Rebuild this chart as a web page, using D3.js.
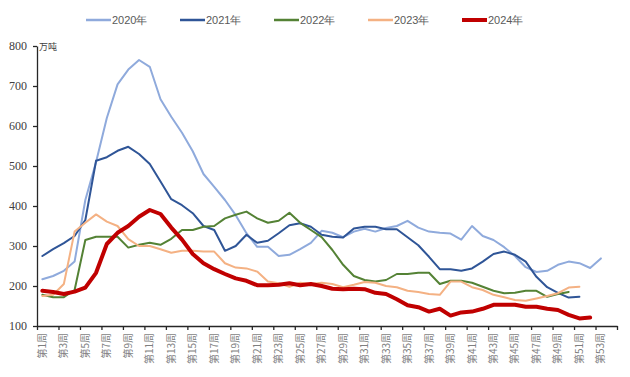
<!DOCTYPE html>
<html>
<head>
<meta charset="utf-8">
<script src="https://cdn.jsdelivr.net/npm/d3@7"></script>
<style>
  body { margin: 0; background: #fff; }
  svg { display: block; }
</style>
</head>
<body>
<div id="chart-area"></div>
<script>
// weekly values, 万吨
const weeks = d3.range(1, 55)
const weekLabels = weeks.map(w => "第" + w + "周")
const yTicks = [100, 200, 300, 400, 500, 600, 700, 800]

const years = ["2020年", "2021年", "2022年", "2023年", "2024年"]
const v2020 = [217, 225, 238, 261, 415, 510, 620, 704, 741, 765, 748, 667, 623, 583, 537, 480, 448, 415, 377, 332, 298, 298, 275, 278, 292, 308, 338, 333, 322, 336, 343, 336, 345, 350, 363, 346, 336, 333, 331, 316, 350, 325, 315, 297, 275, 247, 235, 238, 253, 261, 257, 245, 269]
const v2021 = [275, 292, 307, 325, 365, 513, 522, 538, 548, 530, 505, 461, 417, 402, 382, 350, 340, 288, 300, 328, 308, 313, 332, 352, 357, 348, 328, 323, 321, 344, 348, 348, 342, 342, 322, 302, 273, 242, 242, 238, 244, 261, 280, 286, 278, 261, 223, 197, 183, 171, 173]
const v2022 = [178, 172, 172, 190, 315, 323, 323, 323, 296, 303, 308, 303, 318, 340, 340, 348, 350, 369, 378, 386, 369, 358, 363, 383, 358, 340, 322, 290, 253, 225, 215, 211, 215, 230, 230, 233, 233, 205, 213, 213, 208, 198, 188, 182, 183, 188, 188, 173, 180, 185]
const v2023 = [175, 178, 205, 336, 358, 379, 361, 350, 317, 300, 300, 292, 283, 288, 288, 286, 286, 257, 246, 244, 236, 211, 207, 198, 208, 205, 208, 205, 197, 203, 210, 208, 200, 197, 188, 185, 180, 178, 211, 211, 197, 190, 178, 172, 165, 163, 169, 175, 182, 196, 198]
const v2024 = [188, 185, 180, 186, 196, 233, 305, 333, 350, 373, 390, 380, 346, 316, 280, 257, 242, 230, 219, 213, 202, 202, 203, 207, 202, 205, 200, 193, 192, 193, 192, 183, 180, 167, 152, 147, 136, 143, 126, 134, 136, 143, 153, 153, 153, 148, 148, 143, 140, 128, 119, 121]

const seriesValues = [v2020, v2021, v2022, v2023, v2024]
const colors = ["#8FAADC", "#2F5597", "#548235", "#F4B183", "#C00000"]
const widths = [2, 2, 2, 2, 4]

const SVG_WIDTH = 630
const SVG_HEIGHT = 377
const PLOT = { left: 37, right: 617, top: 46, bottom: 326 }

const svg = d3.select("#chart-area").append("svg")
  .attr("width", SVG_WIDTH)
  .attr("height", SVG_HEIGHT)

const x = d3.scaleBand()
  .domain(weeks)
  .range([PLOT.left, PLOT.right])
  .paddingInner(0).paddingOuter(0)

// boundary scale for category tick marks
const xEdge = d3.scaleLinear()
  .domain([0, weeks.length])
  .range([PLOT.left, PLOT.right])

const y = d3.scaleLinear()
  .domain([100, 800])
  .range([PLOT.bottom, PLOT.top])

const cx = w => x(w) + x.bandwidth() / 2

// lines
const line = d3.line()
  .x((d, i) => cx(i + 1))
  .y(d => y(d))

seriesValues.forEach((vals, i) => {
  svg.append("path")
    .datum(vals)
    .attr("fill", "none")
    .attr("stroke", colors[i])
    .attr("stroke-width", widths[i])
    .attr("stroke-linejoin", "round")
    .attr("stroke-linecap", "round")
    .attr("d", line)
})

// y axis
const yAxisCall = d3.axisLeft(y)
  .tickValues(yTicks)
  .tickSize(4)
  .tickSizeOuter(0)
  .tickPadding(6)

const yAxis = svg.append("g")
  .attr("transform", `translate(${PLOT.left}, 0)`)
  .call(yAxisCall)
yAxis.selectAll("text")
  .attr("font-family", "'Liberation Serif', serif")
  .attr("font-size", "12px")
  .attr("fill", "#404040")
yAxis.selectAll("line, path").attr("stroke", "#262626").attr("stroke-width", 1.3)

// unit label, just right of the axis top
svg.append("text")
  .attr("x", 39)
  .attr("y", 50)
  .attr("font-family", "'Noto Sans CJK SC', sans-serif")
  .attr("font-size", "9px")
  .attr("fill", "#404040")
  .text("万吨")

// x axis
const xAxisCall = d3.axisBottom(xEdge)
  .tickValues(d3.range(0, weeks.length + 1, 2))
  .tickFormat("")
  .tickSize(4)
  .tickSizeOuter(0)

const xAxis = svg.append("g")
  .attr("transform", `translate(0, ${PLOT.bottom})`)
  .call(xAxisCall)
xAxis.selectAll("line, path").attr("stroke", "#262626").attr("stroke-width", 1.3)

svg.append("g").selectAll("text")
  .data(weeks.filter(w => w % 2 === 1))
  .enter().append("text")
  .attr("transform", w => `translate(${cx(w)}, 333) rotate(-90)`)
  .attr("text-anchor", "end")
  .attr("dy", "0.35em")
  .attr("font-family", "'Noto Sans CJK SC', sans-serif")
  .attr("font-size", "10px")
  .attr("fill", "#7f7f7f")
  .text(w => weekLabels[w - 1])

// legend
const legend = svg.append("g")
years.forEach((name, i) => {
  const lx = 86 + i * 94
  legend.append("line")
    .attr("x1", lx).attr("x2", lx + 25)
    .attr("y1", 20).attr("y2", 20)
    .attr("stroke", colors[i])
    .attr("stroke-width", widths[i] === 4 ? 4 : 2.5)
  legend.append("text")
    .attr("x", lx + 26)
    .attr("y", 20)
    .attr("dy", "0.35em")
    .attr("font-family", "'Liberation Sans', Arial, sans-serif")
    .attr("font-size", "11px")
    .attr("fill", "#595959")
    .text(name)
})
</script>
</body>
</html>
